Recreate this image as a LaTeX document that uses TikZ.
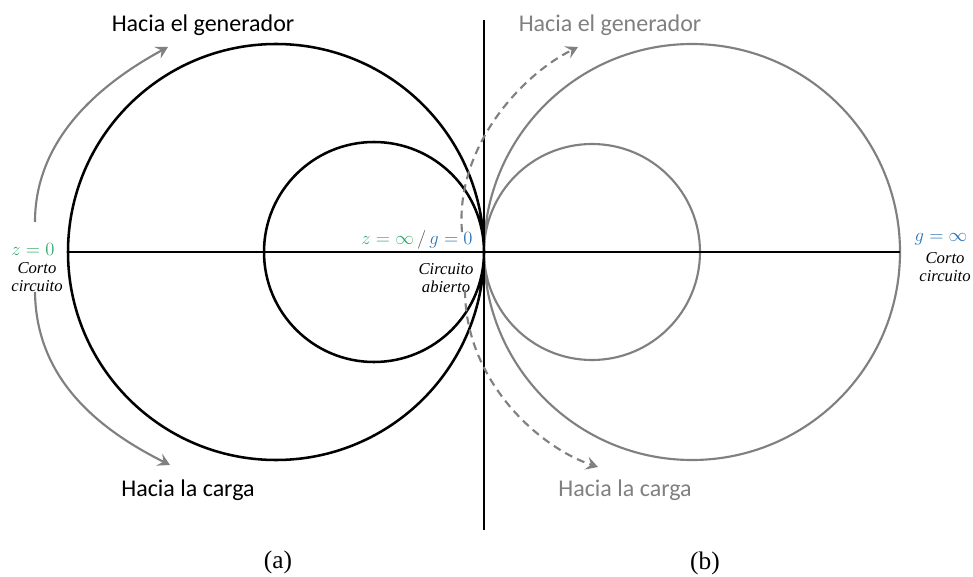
\RequirePackage{fix-cm}
\documentclass[tikz,border=0pt]{standalone}
\usepackage{fontspec}
\setmainfont{Liberation Serif}
\newfontfamily\calibri{Carlito}
\usetikzlibrary{arrows.meta}
\definecolor{zgreen}{RGB}{56,170,112}
\definecolor{gblue}{RGB}{46,117,182}
\definecolor{midgray}{RGB}{128,128,128}

\begin{document}
\begin{tikzpicture}[x=0.75pt,y=-0.75pt,
  hacia/.style={font=\calibri\fontsize{18}{20}\selectfont},
  nota/.style={align=center,font=\itshape\fontsize{12.5}{13.5}\selectfont},
  valor/.style={font=\fontsize{14}{16}\selectfont},
  rotulo/.style={font=\fontsize{19}{21}\selectfont},
  flecha/.style={midgray,line width=1.6pt,-{Stealth[length=9pt,width=10pt,inset=3.5pt]}}]
\useasboundingbox (0,0) rectangle (973,577);
\coordinate (oa) at (276,252);
\coordinate (ia) at (374,252);
\coordinate (ob) at (692,252);
\coordinate (ib) at (592,252);
\coordinate (ejeN) at (484,20);
\coordinate (ejeS) at (484,530);
\coordinate (ejeO) at (68,252);
\coordinate (ejeE) at (900,252);
\draw[midgray,line width=1.6pt] (ob) circle (208) (ib) circle (108);
\draw[line width=1.9pt] (oa) circle (208) (ia) circle (110);
\draw[line width=1.5pt] (ejeN) -- (ejeS);
\draw[line width=1.5pt] (ejeO) -- (ejeE);
\node[hacia] (gen a) at (203,25) {Hacia el generador};
\node[hacia,midgray] (gen b) at (610,25) {Hacia el generador};
\node[hacia] (carga a) at (188,490) {Hacia la carga};
\node[hacia,midgray] (carga b) at (625,490) {Hacia la carga};
\node[valor,zgreen] (z0) at (33,249) {$z=0$};
\node[nota] (corto a) at (37,277) {Corto\\circuito};
\node[valor] (zinf) at (417,240) {$\textcolor{zgreen}{z=\infty}\,\textcolor{black!70}{/}\,\textcolor{gblue}{g=0}$};
\node[nota] (abierto) at (446,278) {Circuito\\abierto};
\node[valor,gblue] (ginf) at (941,239) {$g=\infty$};
\node[nota] (corto b) at (945,267) {Corto\\circuito};
\coordinate (s1) at (35,222);
\coordinate (e1) at (168,47);
\coordinate (s2) at (35,292);
\coordinate (e2) at (170,465);
\coordinate (s3) at (462,232);
\coordinate (e3) at (578,47);
\coordinate (s4) at (465,290);
\coordinate (e4) at (598,467);
\draw[flecha] (s1) .. controls (35,140) and (98,85) .. (e1);
\draw[flecha] (s2) .. controls (36,380) and (100,430) .. (e2);
\draw[flecha,dashed,dash pattern=on 6pt off 4pt] (s3) .. controls (455,150) and (518,77) .. (e3);
\draw[flecha,dashed,dash pattern=on 6pt off 4pt] (s4) .. controls (465,380) and (538,447) .. (e4);
\node[rotulo] (a) at (278,562) {(a)};
\node[rotulo] (b) at (705,563) {(b)};
\end{tikzpicture}
\end{document}
